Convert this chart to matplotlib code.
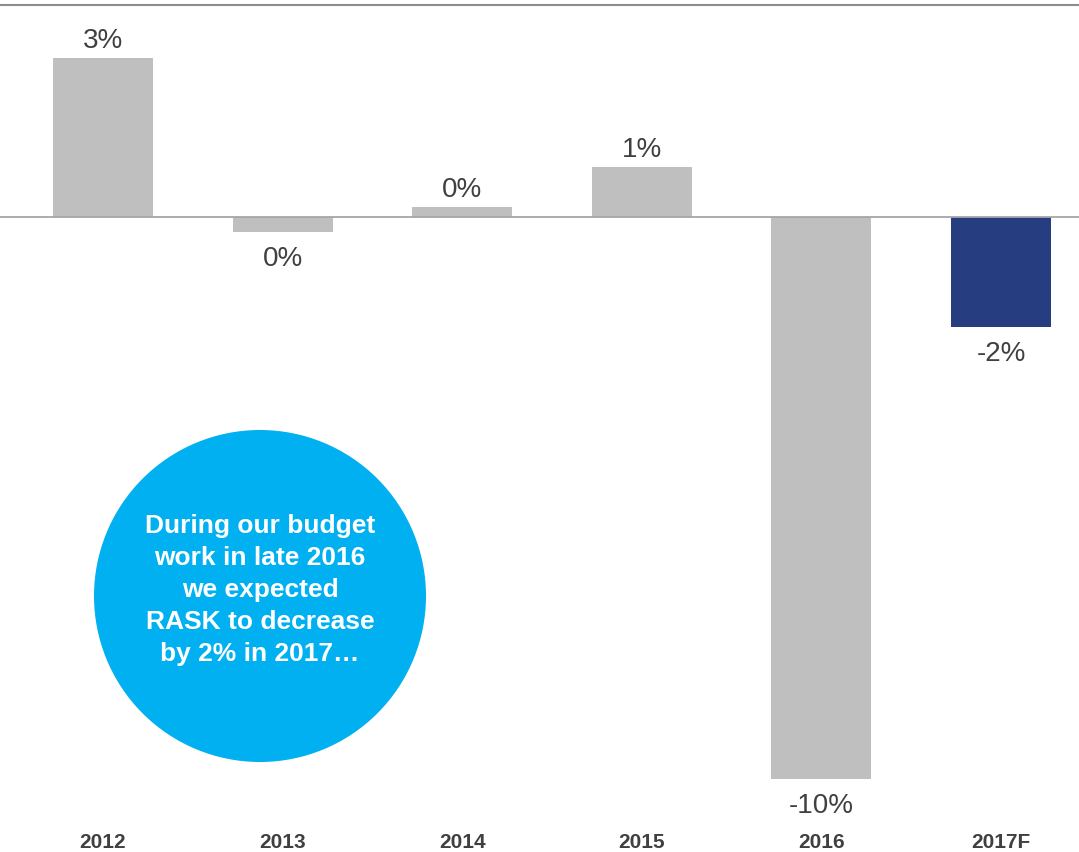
import matplotlib
matplotlib.use("Agg")
import matplotlib.pyplot as plt
from matplotlib.patches import Ellipse

years = ["2012", "2013", "2014", "2015", "2016", "2017F"]
rask_change = [2.83, -0.26, 0.18, 0.89, -10.0, -1.96]
bar_colors = ["#BFBFBF", "#BFBFBF", "#BFBFBF", "#BFBFBF", "#BFBFBF", "#263D80"]
bubble_text = "During our budget\nwork in late 2016\nwe expected\nRASK to decrease\nby 2% in 2017…"

plt.rcParams["font.family"] = ["Liberation Sans", "DejaVu Sans"]
text_color = "#404040"

W, H = 1079, 852
fig = plt.figure(figsize=(W / 100, H / 100), dpi=100)

# axes box in pixels: top at the grey rule, bottom above the year labels
top_px, bottom_px = 5, 820
ax = fig.add_axes([0, 1 - bottom_px / H, 1, (bottom_px - top_px) / H])

px_per_pct = 56.2
zero_px = 217
ax.set_ylim(-(bottom_px - zero_px) / px_per_pct, (zero_px - top_px) / px_per_pct)
ax.set_xlim(-0.573, 5.434)

x = list(range(len(years)))
ax.bar(x, rask_change, width=0.557, color=bar_colors, zorder=2)
ax.axhline(0, color="#A6A6A6", lw=1.3, zorder=3)

for xi, v in zip(x, rask_change):
    label = f"{round(v):d}%"
    if v >= 0:
        ax.annotate(label, (xi, v), xytext=(0, 3), textcoords="offset points",
                    ha="center", va="bottom", fontsize=20, color=text_color)
    else:
        ax.annotate(label, (xi, v), xytext=(0, -10), textcoords="offset points",
                    ha="center", va="top", fontsize=20, color=text_color)

for s in ["left", "right", "bottom"]:
    ax.spines[s].set_visible(False)
ax.spines["top"].set_color("#8C8C8C")
ax.spines["top"].set_linewidth(1.5)
ax.set_yticks([])
ax.set_xticks(x)
ax.set_xticklabels(years, fontsize=15, fontweight="bold", color=text_color)
ax.tick_params(axis="x", length=0, pad=9.5)

# callout bubble
cx, cy, r = 260, 596, 166
fig.patches.append(Ellipse((cx / W, 1 - cy / H), 2 * r / W, 2 * r / H,
                           transform=fig.transFigure, facecolor="#00B0F0",
                           edgecolor="none", zorder=5))
fig.text(cx / W, 1 - 590 / H, bubble_text, ha="center", va="center",
         fontsize=19, fontweight="bold", color="white", linespacing=1.42,
         zorder=6)

fig.savefig("out.png", dpi=100)
